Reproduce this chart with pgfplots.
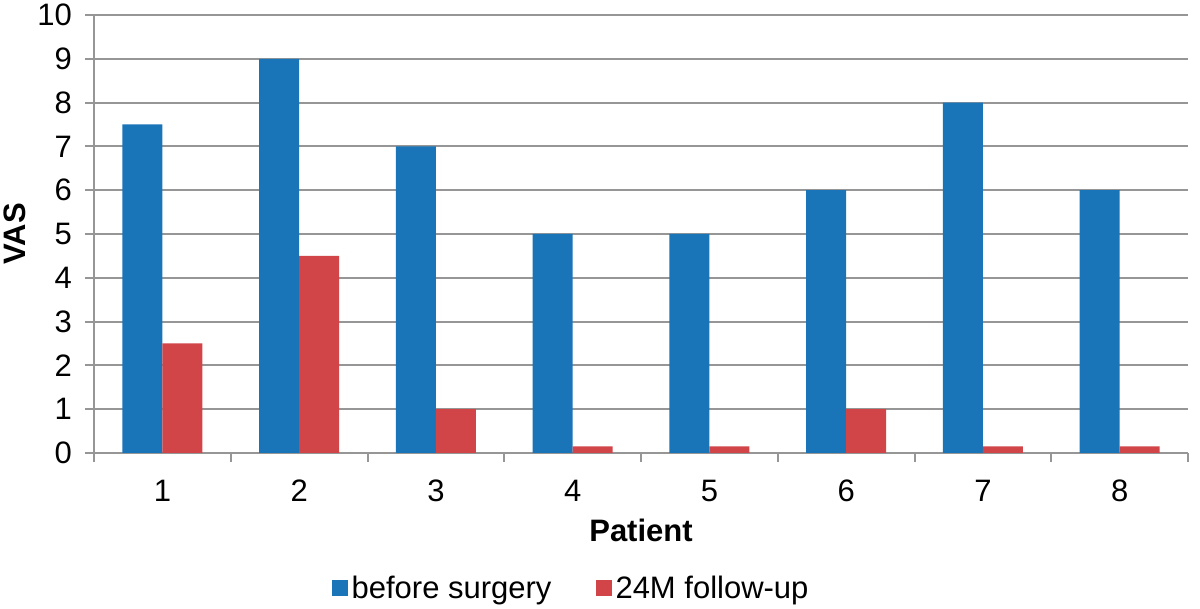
\documentclass[border=0pt]{standalone}
\usepackage{pgfplots}
\pgfplotsset{compat=1.18}
\usepackage{fontspec}
\setmainfont{Liberation Sans}
\definecolor{barblue}{RGB}{26,117,184}
\definecolor{barred}{RGB}{209,69,72}
\definecolor{axgray}{RGB}{150,150,150}
\begin{document}
\begin{tikzpicture}
\begin{axis}[
  name=ax,
  scale only axis,
  width=547pt, height=219pt,
  xmin=0.5, xmax=8.5,
  ymin=0, ymax=10,
  ybar=0pt, bar width=20pt,
  axis x line*=bottom, axis y line*=left,
  axis line style={axgray, line width=1pt},
  xtick={1,...,8},
  major x tick style={draw=none},
  minor xtick={0.5,1.5,...,8.5},
  minor x tick style={axgray, line width=1pt},
  minor tick length=4.5pt,
  ytick={0,...,10},
  major y tick style={axgray, line width=1pt},
  major tick length=4.5pt,
  tick align=outside,
  ymajorgrids,
  grid style={axgray, line width=1pt},
  tick label style={font=\fontsize{15.5}{18}\selectfont},
  /pgf/number format/assume math mode=true,
  xticklabel style={yshift=-5.5pt},
  yticklabel style={xshift=-3pt},
  ylabel={\bfseries VAS},
  ylabel style={at={(axis description cs:-0.0722,0.5)}, anchor=center, font=\fontsize{15.5}{18}\selectfont},
  xlabel={\bfseries Patient},
  xlabel style={at={(axis description cs:0.5,-0.176)}, anchor=center, font=\fontsize{15.5}{18}\selectfont},
  legend style={at={(axis description cs:0.437,-0.309)}, anchor=center, draw=none, legend columns=2,
     font=\fontsize{15.5}{18}\selectfont, /tikz/every even column/.append style={column sep=20pt}},
  legend image code/.code={\fill[#1] (0pt,-4pt) rectangle (8pt,4pt);},
]
\addplot[fill=barblue, draw=none] coordinates {(1,7.5) (2,9) (3,7) (4,5) (5,5) (6,6) (7,8) (8,6)};
\addplot[fill=barred, draw=none] coordinates {(1,2.5) (2,4.5) (3,1) (4,0.15) (5,0.15) (6,1) (7,0.15) (8,0.15)};
\legend{before surgery, 24M follow-up}
\end{axis}
\pgfresetboundingbox
\path[use as bounding box] ([shift={(-47pt,-78pt)}]ax.south west) rectangle ([shift={(6pt,7.5pt)}]ax.north east);
\end{tikzpicture}
\end{document}
